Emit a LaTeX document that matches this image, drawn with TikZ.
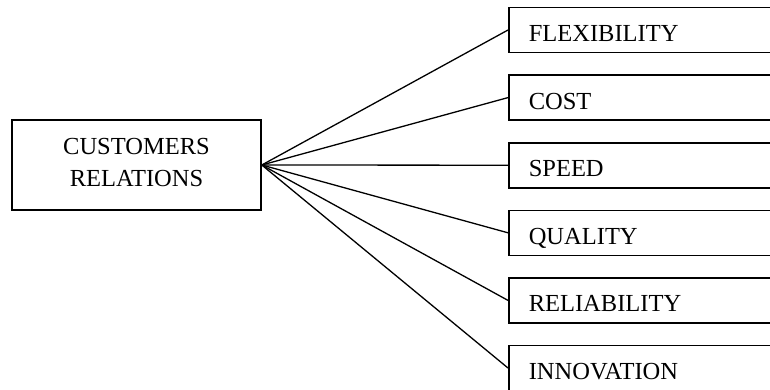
\documentclass[tikz,border=0pt]{standalone}
\usepackage{fontspec}
\setmainfont{Liberation Serif}
\begin{document}
\begin{tikzpicture}[x=1pt,y=-1pt,
  every node/.style={font=\fontsize{24.5}{32}\selectfont},
  hubbox/.style={draw, line width=1.6pt, minimum width=249pt, minimum height=90pt, align=center, inner sep=0pt, text depth=6pt},
  itembox/.style={draw, line width=1.6pt, anchor=west, minimum height=45pt, text width=300pt, align=left, inner xsep=20pt, inner ysep=0pt, text height=23pt, text depth=0pt},
  link/.style={line width=1.3pt}]
  \useasboundingbox (0,0) rectangle (770,389);
  \clip (0,0) rectangle (770,389);
  % central box
  \node[hubbox] (hub) at (136.5,165) {CUSTOMERS\\RELATIONS};
  % factor boxes, running off the right edge
  \node[itembox] (flex) at (508,30)    {FLEXIBILITY};
  \node[itembox] (cost) at (508,97.6)  {COST};
  \node[itembox] (speed) at (508,165.2) {SPEED};
  \node[itembox] (qual) at (508,232.8) {QUALITY};
  \node[itembox] (rel) at (508,300.4)  {RELIABILITY};
  \node[itembox] (inno) at (508,368)   {INNOVATION};
  % fan of connectors
  \foreach \t in {flex,cost,speed,qual,rel,inno}
    \draw[link] (hub.east) -- (\t.west);
\end{tikzpicture}
\end{document}
